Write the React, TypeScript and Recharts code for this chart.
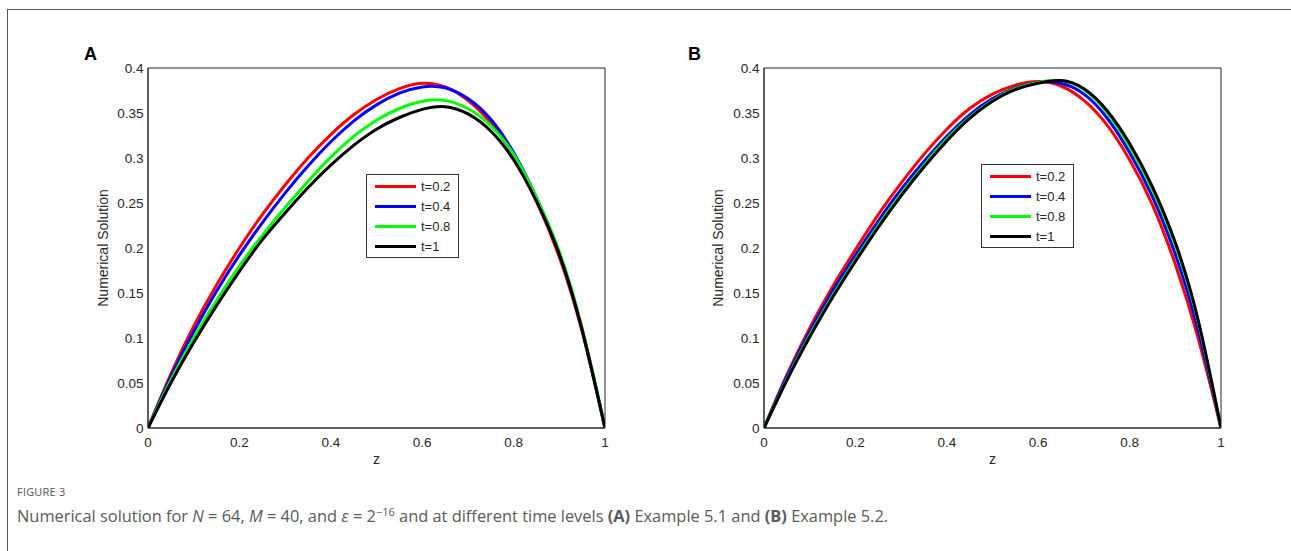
import React from "react";
import { LineChart, Line, XAxis, YAxis, Legend } from "recharts";

// shared z grid
const zValues = [0, 0.05, 0.1, 0.15, 0.2, 0.25, 0.3, 0.35, 0.4, 0.45, 0.5, 0.55, 0.6, 0.65, 0.7, 0.75, 0.8, 0.85, 0.9, 0.95, 1];

// (A) Example 5.1
const aT02 = [0, 0.06, 0.113, 0.159, 0.2, 0.237, 0.27, 0.3, 0.326, 0.348, 0.365, 0.377, 0.383, 0.379, 0.364, 0.339, 0.302, 0.252, 0.19, 0.107, 0];
const aT04 = [0, 0.057, 0.107, 0.152, 0.192, 0.228, 0.261, 0.291, 0.318, 0.341, 0.359, 0.372, 0.379, 0.378, 0.366, 0.343, 0.306, 0.256, 0.194, 0.109, 0];
const aT08 = [0, 0.053, 0.1, 0.142, 0.18, 0.214, 0.245, 0.274, 0.301, 0.324, 0.342, 0.355, 0.363, 0.364, 0.355, 0.336, 0.304, 0.256, 0.196, 0.111, 0];
const aT1 = [0, 0.05, 0.095, 0.136, 0.174, 0.209, 0.239, 0.267, 0.292, 0.314, 0.332, 0.345, 0.354, 0.357, 0.349, 0.33, 0.298, 0.252, 0.193, 0.109, 0];

// (B) Example 5.2
const bT02 = [0, 0.059, 0.111, 0.157, 0.198, 0.237, 0.272, 0.304, 0.332, 0.355, 0.371, 0.381, 0.385, 0.38, 0.364, 0.337, 0.298, 0.248, 0.182, 0.1, 0];
const bT04 = [0, 0.057, 0.107, 0.152, 0.192, 0.23, 0.265, 0.296, 0.324, 0.348, 0.366, 0.378, 0.384, 0.383, 0.371, 0.345, 0.306, 0.257, 0.193, 0.109, 0];
const bT08 = [0, 0.054, 0.103, 0.147, 0.187, 0.225, 0.26, 0.292, 0.321, 0.345, 0.364, 0.377, 0.384, 0.386, 0.376, 0.351, 0.313, 0.265, 0.203, 0.118, 0];
const bT1 = [0, 0.053, 0.101, 0.145, 0.185, 0.223, 0.258, 0.29, 0.319, 0.344, 0.363, 0.376, 0.383, 0.386, 0.377, 0.353, 0.316, 0.268, 0.206, 0.12, 0];

const seriesNames = ["t=0.2", "t=0.4", "t=0.8", "t=1"];
const seriesColors = ["#ff0000", "#0000ff", "#00ff00", "#000000"];
const xTicks = [0, 0.2, 0.4, 0.6, 0.8, 1];
const yTicks = [0, 0.05, 0.1, 0.15, 0.2, 0.25, 0.3, 0.35, 0.4];

const FONT = "'Liberation Sans', Arial, Helvetica, sans-serif";
const AXIS = "#262626";

function buildRows(series: number[][]) {
  return zValues.map((z, i) => {
    const row: Record<string, number> = { z };
    series.forEach((s, k) => {
      row["s" + k] = s[i];
    });
    return row;
  });
}

const dataA = buildRows([aT02, aT04, aT08, aT1]);
const dataB = buildRows([bT02, bT04, bT08, bT1]);

function BoxLegend({ payload }: any) {
  return (
    <div
      style={{
        boxSizing: "border-box",
        width: 93,
        border: "1px solid #333",
        background: "#fff",
        padding: "1px 0 1px 8px",
        fontFamily: FONT,
        fontSize: 13,
        color: AXIS,
      }}
    >
      {(payload || []).map((item: any) => (
        <div key={item.value} style={{ display: "flex", alignItems: "center", height: 20 }}>
          <span style={{ display: "inline-block", width: 41, height: 3, background: item.color, marginRight: 5 }} />
          <span>{item.value}</span>
        </div>
      ))}
    </div>
  );
}

type PanelProps = {
  data: Record<string, number>[];
  width: number;
  marginLeft: number;
  marginRight: number;
  yAxisWidth: number;
  legendLeft: number;
  legendTop: number;
};

function Panel({ data, width, marginLeft, marginRight, yAxisWidth, legendLeft, legendTop }: PanelProps) {
  const tickStyle = { fill: AXIS, fontSize: 13.5, fontFamily: FONT };
  // MATLAB-style box: labelled axes outside, inward tick marks on all four sides via mirrored axes
  const boxAxis = {
    type: "number" as const,
    allowDataOverflow: true,
    interval: 0 as const,
    mirror: true,
    tick: false,
    tickSize: 5,
    stroke: AXIS,
  };
  return (
    <LineChart
      width={width}
      height={551}
      data={data}
      margin={{ top: 68, right: marginRight, bottom: 61, left: marginLeft }}
    >
      <XAxis
        dataKey="z"
        type="number"
        domain={[0, 1]}
        ticks={xTicks}
        interval={0}
        allowDataOverflow
        height={62}
        tickLine={false}
        tickSize={0}
        tickMargin={9}
        stroke={AXIS}
        tick={tickStyle}
        label={{ value: "z", position: "center", fill: AXIS, fontSize: 14, fontFamily: FONT }}
      />
      <XAxis xAxisId="bottomTicks" orientation="bottom" domain={[0, 1]} ticks={xTicks} height={10} {...boxAxis} />
      <XAxis xAxisId="topTicks" orientation="top" domain={[0, 1]} ticks={xTicks} height={10} {...boxAxis} />
      <YAxis
        type="number"
        domain={[0, 0.4]}
        ticks={yTicks}
        interval={0}
        allowDataOverflow
        width={yAxisWidth}
        tickLine={false}
        tickSize={0}
        tickMargin={4.5}
        stroke={AXIS}
        tick={tickStyle}
        label={{
          value: "Numerical Solution",
          angle: -90,
          position: "center",
          fill: AXIS,
          fontSize: 14,
          fontFamily: FONT,
        }}
      />
      <YAxis yAxisId="leftTicks" orientation="left" domain={[0, 0.4]} ticks={yTicks} width={10} {...boxAxis} />
      <YAxis yAxisId="rightTicks" orientation="right" domain={[0, 0.4]} ticks={yTicks} width={10} {...boxAxis} />
      <Legend
        layout="vertical"
        align="center"
        verticalAlign="middle"
        content={<BoxLegend />}
        wrapperStyle={{ left: legendLeft, top: legendTop, width: 93 }}
      />
      {seriesNames.map((name, k) => (
        <Line
          key={name}
          dataKey={"s" + k}
          name={name}
          type="natural"
          stroke={seriesColors[k]}
          strokeWidth={3}
          dot={false}
          activeDot={false}
          isAnimationActive={false}
        />
      ))}
    </LineChart>
  );
}

export default function App() {
  const letter = { position: "absolute" as const, top: 45, fontSize: 18, lineHeight: "18px", fontWeight: "bold" as const, color: "#000" };
  return (
    <div
      style={{
        position: "relative",
        width: 1291,
        height: 551,
        overflow: "hidden",
        background: "#fff",
        fontFamily: FONT,
      }}
    >
      <style>{"html,body{margin:0;padding:0;overflow:hidden;}"}</style>
      <div style={{ position: "absolute", left: 7, top: 9, width: 1284, height: 1, background: "#555" }} />
      <div style={{ position: "absolute", left: 7, top: 9, width: 1, height: 542, background: "#555" }} />
      <div style={{ position: "absolute", left: 0, top: 0 }}>
        <Panel data={dataA} width={640} marginLeft={58} marginRight={35} yAxisWidth={90} legendLeft={366} legendTop={174} />
      </div>
      <div style={{ position: "absolute", left: 640, top: 0 }}>
        <Panel data={dataB} width={651} marginLeft={32} marginRight={70} yAxisWidth={92} legendLeft={341} legendTop={164} />
      </div>
      <div style={{ ...letter, left: 84 }}>A</div>
      <div style={{ ...letter, left: 688 }}>B</div>
      <div
        style={{
          position: "absolute",
          left: 17,
          top: 486,
          fontSize: 11,
          lineHeight: "12px",
          color: "#555",
          fontFamily: "'Open Sans', 'Noto Sans', sans-serif",
          letterSpacing: 0.2,
        }}
      >
        FIGURE 3
      </div>
      <div
        style={{
          position: "absolute",
          left: 17,
          top: 502,
          fontSize: 16.4,
          lineHeight: "20px",
          color: "#5a5a5a",
          fontFamily: "'Open Sans', 'Noto Sans', sans-serif",
          whiteSpace: "nowrap",
        }}
      >
        Numerical solution for <i>N</i> = 64, <i>M</i> = 40, and <i>ε</i> = 2<sup style={{ fontSize: 11 }}>−16</sup> and at
        different time levels <b>(A)</b> Example 5.1 and <b>(B)</b> Example 5.2.
      </div>
    </div>
  );
}
